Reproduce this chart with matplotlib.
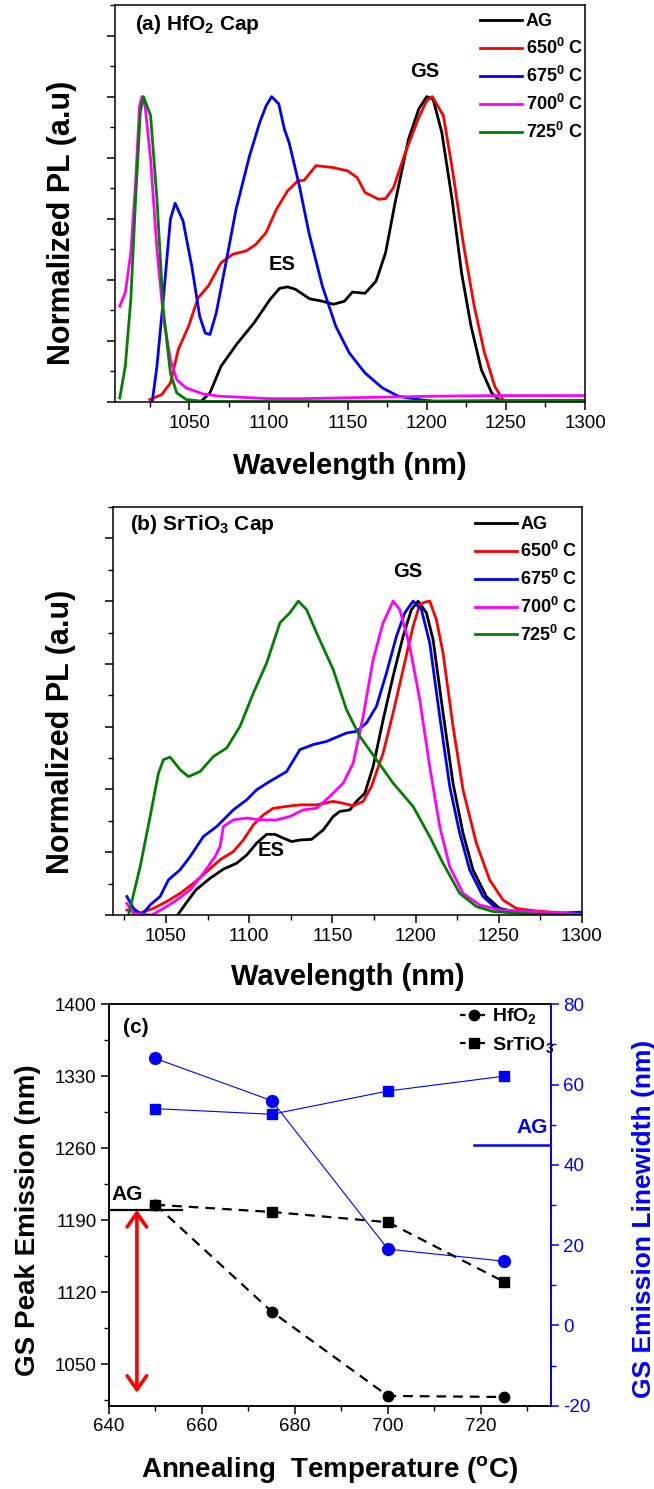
import matplotlib
matplotlib.use("Agg")
import matplotlib.pyplot as plt
from matplotlib.ticker import MultipleLocator, NullFormatter
from matplotlib.lines import Line2D

plt.rcParams.update({
    "font.family": ["Liberation Sans", "DejaVu Sans"],
    "mathtext.fontset": "custom",
    "mathtext.rm": "Liberation Sans",
    "mathtext.bf": "Liberation Sans:bold",
    "mathtext.it": "Liberation Sans:italic",
    "lines.scale_dashes": False,
    "axes.linewidth": 1.1,
    "axes.unicode_minus": False,
})

# ---------------- data ----------------
series_labels = ["AG", r"650$^{\mathbf{0}}$ C", r"675$^{\mathbf{0}}$ C",
                 r"700$^{\mathbf{0}}$ C", r"725$^{\mathbf{0}}$ C"]
series_colors = ["#000000", "#ff0000", "#0000ff", "#ff00ff", "#008000"]

# (a) HfO2 capped samples: wavelength (nm) / normalized PL
a_ag_wl = [1057, 1063, 1070, 1080, 1091, 1101, 1107, 1112, 1117, 1126, 1134, 1141, 1148,
           1153, 1161, 1168, 1174, 1180, 1188.5, 1195, 1200, 1204, 1209.5, 1216, 1222,
           1228, 1234.5, 1241, 1247, 1300]
a_ag_pl = [0.0, 0.03, 0.117, 0.19, 0.26, 0.336, 0.372, 0.377, 0.369, 0.338, 0.33, 0.32, 0.33,
           0.36, 0.356, 0.396, 0.489, 0.653, 0.861, 0.96, 1.0, 0.992, 0.883, 0.664, 0.423,
           0.248, 0.106, 0.03, 0.0, 0.003]
a_650_wl = [1025, 1032.5, 1038, 1043, 1049.5, 1055.5, 1062, 1070, 1077.5, 1086, 1092, 1098.5,
            1105, 1112, 1118.5, 1122.5, 1130, 1140.5, 1150, 1156, 1161, 1169.5, 1174, 1179,
            1186.5, 1195, 1200, 1203.5, 1210.5, 1216.5, 1223, 1230, 1236.5, 1243, 1249]
a_650_pl = [0.008, 0.024, 0.062, 0.172, 0.248, 0.341, 0.38, 0.456, 0.484, 0.495, 0.516, 0.555,
            0.631, 0.691, 0.724, 0.726, 0.774, 0.768, 0.757, 0.735, 0.686, 0.664, 0.666, 0.702,
            0.817, 0.932, 0.987, 1.0, 0.938, 0.752, 0.522, 0.314, 0.161, 0.051, 0.0]
a_675_wl = [1026.5, 1029.5, 1033.5, 1038, 1041, 1046, 1051.5, 1056.5, 1060, 1063, 1067, 1073.5,
            1079.5, 1088, 1094.5, 1098.5, 1102, 1106.5, 1110, 1113, 1119.5, 1125.5, 1134,
            1142.5, 1151, 1161, 1172, 1182, 1195, 1205, 1300]
a_675_pl = [0.0, 0.117, 0.336, 0.598, 0.651, 0.593, 0.445, 0.281, 0.226, 0.221, 0.292, 0.467,
            0.631, 0.806, 0.916, 0.97, 1.0, 0.976, 0.894, 0.85, 0.708, 0.555, 0.38, 0.248,
            0.161, 0.095, 0.046, 0.019, 0.008, 0.002, 0.005]
a_700_wl = [1006, 1009.5, 1013, 1016, 1018.5, 1020, 1022, 1025.5, 1029.5, 1033.5, 1038, 1042,
            1048, 1059, 1069, 1100, 1121, 1163, 1205, 1247, 1300]
a_700_pl = [0.314, 0.358, 0.489, 0.719, 0.97, 1.0, 0.97, 0.795, 0.5, 0.281, 0.139, 0.073,
            0.046, 0.026, 0.019, 0.011, 0.011, 0.015, 0.019, 0.021, 0.021]
a_725_wl = [1006, 1009.5, 1013, 1016, 1019, 1021, 1025.5, 1029.5, 1033.5, 1038, 1042, 1048,
            1059, 1100, 1200, 1300]
a_725_pl = [0.013, 0.117, 0.336, 0.664, 0.949, 1.0, 0.938, 0.664, 0.303, 0.095, 0.03, 0.008,
            0.002, 0.002, 0.003, 0.006]

# (b) SrTiO3 capped samples
b_ag_wl = [1057, 1062, 1068, 1076.5, 1084.5, 1092.5, 1098.5, 1104.5, 1110.5, 1115.5, 1120.5,
           1125.5, 1130.5, 1137.5, 1144.5, 1150.5, 1154.5, 1160.5, 1164.5, 1169.5, 1174.5,
           1180.5, 1186.5, 1192.5, 1197.5, 1201.5, 1206.5, 1210.5, 1216.5, 1222.5, 1228.5,
           1234.5, 1242.5, 1250.5, 1262.5, 1281, 1300]
b_ag_pl = [0.0, 0.037, 0.08, 0.117, 0.146, 0.165, 0.191, 0.229, 0.257, 0.257, 0.245, 0.234,
           0.239, 0.241, 0.271, 0.314, 0.33, 0.335, 0.362, 0.388, 0.473, 0.622, 0.761, 0.888,
           0.973, 1.0, 0.963, 0.878, 0.644, 0.42, 0.261, 0.144, 0.059, 0.021, 0.007, 0.002, 0.0]
b_650_wl = [1026.5, 1034.5, 1042.5, 1050.5, 1058.5, 1066.5, 1074.5, 1082.5, 1090.5, 1096.5,
            1102.5, 1108.5, 1114.5, 1122.5, 1130.5, 1140.5, 1150.5, 1156.5, 1162.5, 1168.5,
            1173.5, 1180.5, 1186.5, 1192.5, 1198.5, 1202.5, 1205.5, 1208.5, 1212.5, 1216.5,
            1222.5, 1228.5, 1236.5, 1244.5, 1252.5, 1260.5, 1270.5, 1291, 1300]
b_650_pl = [0.016, 0.007, 0.021, 0.043, 0.069, 0.101, 0.138, 0.176, 0.202, 0.239, 0.287, 0.319,
            0.34, 0.346, 0.351, 0.351, 0.362, 0.356, 0.348, 0.362, 0.41, 0.516, 0.644, 0.782,
            0.92, 0.989, 0.997, 1.0, 0.941, 0.835, 0.601, 0.399, 0.229, 0.112, 0.048, 0.021,
            0.014, 0.005, 0.002]
b_675_wl = [1026.5, 1030.5, 1035.5, 1040.5, 1046.5, 1051.5, 1058.5, 1064.5, 1072.5, 1080.5,
            1090.5, 1098.5, 1104.5, 1112.5, 1122.5, 1130.5, 1138.5, 1146.5, 1158.5, 1164.5,
            1170.5, 1176.5, 1182.5, 1188.5, 1193.5, 1198.5, 1203.5, 1208.5, 1214.5, 1220.5,
            1226.5, 1232.5, 1240.5, 1248.5, 1260.5, 1281, 1300]
b_675_pl = [0.059, 0.021, 0.0, 0.032, 0.059, 0.112, 0.144, 0.186, 0.25, 0.282, 0.335, 0.367,
            0.399, 0.426, 0.457, 0.527, 0.543, 0.553, 0.58, 0.585, 0.612, 0.665, 0.771, 0.888,
            0.963, 1.0, 0.973, 0.867, 0.633, 0.41, 0.261, 0.144, 0.059, 0.021, 0.007, 0.005,
            0.009]
b_700_wl = [1026.5, 1030.5, 1041.5, 1048.5, 1056.5, 1064.5, 1072.5, 1079.5, 1082.5, 1084.5,
            1090.5, 1098.5, 1106.5, 1116.5, 1124.5, 1132.5, 1140.5, 1148.5, 1156.5, 1162.5,
            1168.5, 1174.5, 1180.5, 1186.5, 1190.5, 1196.5, 1202.5, 1208.5, 1214.5, 1220.5,
            1228.5, 1238.5, 1250.5, 1270.5, 1300]
b_700_pl = [0.037, 0.005, 0.0, 0.021, 0.048, 0.08, 0.133, 0.186, 0.218, 0.282, 0.303, 0.309,
            0.303, 0.303, 0.314, 0.335, 0.34, 0.378, 0.42, 0.484, 0.633, 0.814, 0.931, 1.0,
            0.973, 0.856, 0.686, 0.473, 0.282, 0.154, 0.069, 0.032, 0.016, 0.011, 0.002]
b_725_wl = [1027.5, 1034.5, 1040.5, 1045.5, 1048.5, 1052.5, 1058.5, 1063.5, 1070.5, 1078.5,
            1086.5, 1094.5, 1102.5, 1110.5, 1118.5, 1124.5, 1129.5, 1134.5, 1140.5, 1150.5,
            1158.5, 1166.5, 1176.5, 1186.5, 1198.5, 1208.5, 1216.5, 1226.5, 1236.5, 1246.5,
            1270.5, 1300]
b_725_pl = [0.0, 0.154, 0.314, 0.452, 0.495, 0.503, 0.463, 0.441, 0.457, 0.505, 0.532, 0.601,
            0.707, 0.803, 0.931, 0.963, 1.0, 0.973, 0.899, 0.782, 0.654, 0.569, 0.495, 0.42,
            0.346, 0.25, 0.165, 0.069, 0.027, 0.011, 0.003, 0.0]

# (c) ground-state emission vs annealing temperature
anneal_temp = [650, 675, 700, 725]
hfo2_peak = [1205, 1101, 1019, 1018]
srtio3_peak = [1205, 1198, 1188, 1130]
hfo2_linewidth = [66.5, 56.0, 19.0, 16.0]
srtio3_linewidth = [54.0, 52.6, 58.4, 62.1]
ag_peak = 1200
ag_linewidth = 45
shift_bottom = 1022

spectra_a = [(a_ag_wl, a_ag_pl), (a_650_wl, a_650_pl), (a_675_wl, a_675_pl),
             (a_700_wl, a_700_pl), (a_725_wl, a_725_pl)]
spectra_b = [(b_ag_wl, b_ag_pl), (b_650_wl, b_650_pl), (b_675_wl, b_675_pl),
             (b_700_wl, b_700_pl), (b_725_wl, b_725_pl)]

W, H = 654, 1489
fig = plt.figure(figsize=(W / 100, H / 100), dpi=100)


def px_axes(left, top, right, bottom):
    return fig.add_axes([left / W, 1 - bottom / H, (right - left) / W, (bottom - top) / H])


TICK_FS = 13.5


def style_spectrum_axes(ax, xlim):
    ax.set_xlim(*xlim)
    ax.set_ylim(0, 1.3)
    ax.xaxis.set_major_locator(MultipleLocator(50))
    ax.xaxis.set_minor_locator(MultipleLocator(25))
    ax.yaxis.set_major_locator(MultipleLocator(0.2))
    ax.yaxis.set_minor_locator(MultipleLocator(0.1))
    ax.yaxis.set_major_formatter(NullFormatter())
    ax.tick_params(which="major", direction="out", length=6, width=1.1, labelsize=TICK_FS, pad=3)
    ax.tick_params(which="minor", direction="out", length=3.5, width=1.0)
    ax.set_xticks([t for t in range(1050, 1301, 50)])
    ax.set_xlabel("Wavelength (nm)", fontsize=21, fontweight="bold", va="center")
    ax.set_ylabel("Normalized PL (a.u)", fontsize=22, fontweight="bold", va="center")


def draw_spectra(ax, spectra, anchor):
    for (wl, pl), col, lab in zip(spectra, series_colors, series_labels):
        ax.plot(wl, pl, color=col, lw=2.0, label=lab, solid_joinstyle="round")
    ax.legend(loc="upper right", bbox_to_anchor=anchor, frameon=False,
              prop={"size": 13, "weight": "bold"}, handlelength=2.3, handletextpad=0.2,
              borderaxespad=0.2, borderpad=0.2, labelspacing=0.43)


# ---------------- (a) ----------------
ax_a = px_axes(115, 5, 585, 402)
draw_spectra(ax_a, spectra_a, (1.0106, 0.997))
style_spectrum_axes(ax_a, (1003, 1300))
ax_a.xaxis.set_label_coords(0.5, -0.161)
ax_a.yaxis.set_label_coords(-0.113, 0.451)
ax_a.text(0.043, 0.950, r"(a) HfO$_{\mathbf{2}}$ Cap", transform=ax_a.transAxes,
          fontsize=15, fontweight="bold", va="center", ha="left")
ax_a.text(1199, 1.081, "GS", fontsize=14.5, fontweight="bold", ha="center", va="center")
ax_a.text(1108.5, 0.45, "ES", fontsize=14.5, fontweight="bold", ha="center", va="center")

# ---------------- (b) ----------------
ax_b = px_axes(112.7, 507, 582, 915)
draw_spectra(ax_b, spectra_b, (1.006, 0.995))
style_spectrum_axes(ax_b, (1018, 1300))
ax_b.xaxis.set_label_coords(0.5, -0.152)
ax_b.yaxis.set_label_coords(-0.110, 0.449)
ax_b.text(0.037, 0.956, r"(b) SrTiO$_{\mathbf{3}}$ Cap", transform=ax_b.transAxes,
          fontsize=15, fontweight="bold", va="center", ha="left")
ax_b.text(1195.5, 1.095, "GS", fontsize=14.5, fontweight="bold", ha="center", va="center")
ax_b.text(1113, 0.207, "ES", fontsize=14.5, fontweight="bold", ha="center", va="center")

# ---------------- (c) ----------------
ax_c = px_axes(109, 1004.3, 550.7, 1405.7)
ax_r = ax_c.twinx()

ax_c.plot(anneal_temp, hfo2_peak, color="black", lw=1.6, dashes=[7, 5], marker="o",
          markersize=7.5, zorder=3)
ax_c.plot(anneal_temp, srtio3_peak, color="black", lw=1.6, dashes=[7, 5], marker="s",
          markersize=6.8, zorder=4)
ax_c.plot([640, 655.7], [ag_peak, ag_peak], color="black", lw=1.6)
ax_c.text(644, 1215, "AG", fontsize=15, fontweight="bold", ha="center", va="center")
ax_c.annotate("", xy=(646, shift_bottom), xytext=(646, ag_peak),
              arrowprops=dict(arrowstyle="<->,head_length=0.5,head_width=0.35",
                              color="#ff0000", lw=2.6, shrinkA=0, shrinkB=0,
                              mutation_scale=20))

ax_r.plot(anneal_temp, hfo2_linewidth, color="#0000ff", lw=0.8, marker="o", markersize=8.5)
ax_r.plot(anneal_temp, srtio3_linewidth, color="#0000ff", lw=0.8, marker="s", markersize=7.5)
ax_r.plot([718.5, 735], [ag_linewidth, ag_linewidth], color="#0000ff", lw=1.8)
ax_r.text(734.3, 49.3, "AG", fontsize=15, fontweight="bold", color="#0000ff",
          ha="right", va="center")

ax_c.set_xlim(640, 735)
ax_c.set_ylim(1009.5, 1400)
ax_r.set_ylim(-20, 80)
ax_c.xaxis.set_major_locator(MultipleLocator(20))
ax_c.xaxis.set_minor_locator(MultipleLocator(10))
ax_c.yaxis.set_major_locator(MultipleLocator(70))
ax_c.yaxis.set_minor_locator(MultipleLocator(35))
ax_r.yaxis.set_major_locator(MultipleLocator(20))
ax_r.yaxis.set_minor_locator(MultipleLocator(10))
ax_c.set_yticks([1050, 1120, 1190, 1260, 1330, 1400])

for ax in (ax_c, ax_r):
    ax.tick_params(which="major", direction="out", length=6, width=1.1, labelsize=TICK_FS, pad=3)
    ax.tick_params(which="minor", direction="out", length=3.5, width=1.0)
ax_r.tick_params(axis="y", which="both", colors="#0000ff")
ax_r.spines["right"].set_color("#0000ff")
ax_r.spines["right"].set_linewidth(1.3)

ax_c.set_xlabel(r"Annealing  Temperature ($^{\mathbf{o}}$C)", fontsize=20, fontweight="bold",
                va="center")
ax_c.xaxis.set_label_coords(0.5, -0.160)
ax_c.set_ylabel("GS Peak Emission (nm)", fontsize=20, fontweight="bold", va="center")
ax_c.yaxis.set_label_coords(-0.184, 0.463)
ax_r.set_ylabel("GS Emission Linewidth (nm)", fontsize=19, fontweight="bold", color="#0000ff",
                va="center", rotation=90)
ax_r.yaxis.set_label_coords(1.212, 0.465)
ax_c.text(0.032, 0.941, "(c)", transform=ax_c.transAxes, fontsize=15, fontweight="bold",
          ha="left", va="center")

legend_handles = [
    Line2D([], [], color="black", lw=1.6, dashes=[4, 3], marker="o", markersize=7.5),
    Line2D([], [], color="black", lw=1.6, dashes=[4, 3], marker="s", markersize=6.8),
]
ax_r.legend(legend_handles, [r"HfO$_{\mathbf{2}}$", r"SrTiO$_{\mathbf{3}}$"],
            loc="upper left", bbox_to_anchor=(0.795, 0.995), frameon=False,
            prop={"size": 14, "weight": "bold"}, handlelength=1.45, handletextpad=0.2,
            borderaxespad=0, borderpad=0, labelspacing=0.45)

fig.savefig("out.png", dpi=100)
